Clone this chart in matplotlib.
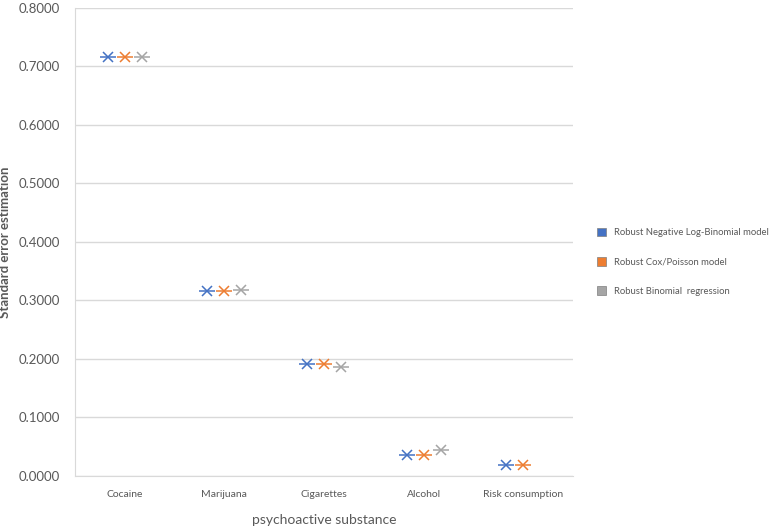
import matplotlib
matplotlib.use('Agg')
import matplotlib.pyplot as plt
from matplotlib.patches import Patch
import numpy as np

categories = ['Cocaine', 'Marijuana', 'Cigarettes', 'Alcohol', 'Risk consumption']
neg_log_binomial = [0.716, 0.316, 0.192, 0.036, 0.018]
cox_poisson = [0.716, 0.316, 0.191, 0.036, 0.018]
binomial_reg = [0.716, 0.317, 0.187, 0.045, None]

series = [
    ('Robust Negative Log-Binomial model', neg_log_binomial, '#4472C4'),
    ('Robust Cox/Poisson model', cox_poisson, '#ED7D31'),
    ('Robust Binomial  regression', binomial_reg, '#A5A5A5'),
]

plt.rcParams['font.family'] = ['Lato', 'DejaVu Sans']

fig = plt.figure(figsize=(7.77, 5.28), dpi=100)
ax = fig.add_axes([0.0965, 0.0985, 0.641, 0.887])

x = np.arange(len(categories))
offsets = [-0.17, 0.0, 0.17]
handles = []
for (name, vals, color), off in zip(series, offsets):
    xs = [xi + off for xi, v in zip(x, vals) if v is not None]
    ys = [v for v in vals if v is not None]
    ax.plot(xs, ys, linestyle='none', marker='x', markersize=7, mew=1.1, color=color)
    ax.plot(xs, ys, linestyle='none', marker='_', markersize=12, mew=1.1, color=color)
    handles.append(Patch(facecolor=color, edgecolor='#7f7f7f', linewidth=0.5, label=name))

ax.set_xlim(-0.5, len(categories) - 0.5)
ax.set_ylim(0, 0.8)
ax.set_yticks(np.arange(0, 0.81, 0.1))
ax.set_yticklabels([f'{v:.4f}' for v in np.arange(0, 0.81, 0.1)])
ax.set_xticks(x)
ax.set_xticklabels(categories)
ax.tick_params(axis='y', labelsize=9.5, colors='#595959', length=0, pad=11)
ax.tick_params(axis='x', labelsize=7.5, colors='#595959', length=0, pad=10)
ax.grid(axis='y', color='#d9d9d9', linewidth=1)
ax.set_axisbelow(True)
for side in ['top', 'right']:
    ax.spines[side].set_visible(False)
ax.spines['left'].set_color('#d9d9d9')
ax.spines['bottom'].set_color('#d9d9d9')

ax.set_ylabel('Standard error estimation', fontsize=9.5, fontweight='bold', color='#595959')
ax.yaxis.set_label_coords(-0.128, 0.5)
ax.set_xlabel('psychoactive substance', fontsize=10, color='#595959', labelpad=11)

fig.legend(handles=handles, loc='center left', bbox_to_anchor=(0.762, 0.504), frameon=False,
           fontsize=6.8, labelcolor='#595959', handlelength=1.0, handleheight=1.0,
           labelspacing=2.1, handletextpad=0.8, borderpad=0)

fig.savefig('out.png', dpi=100)
